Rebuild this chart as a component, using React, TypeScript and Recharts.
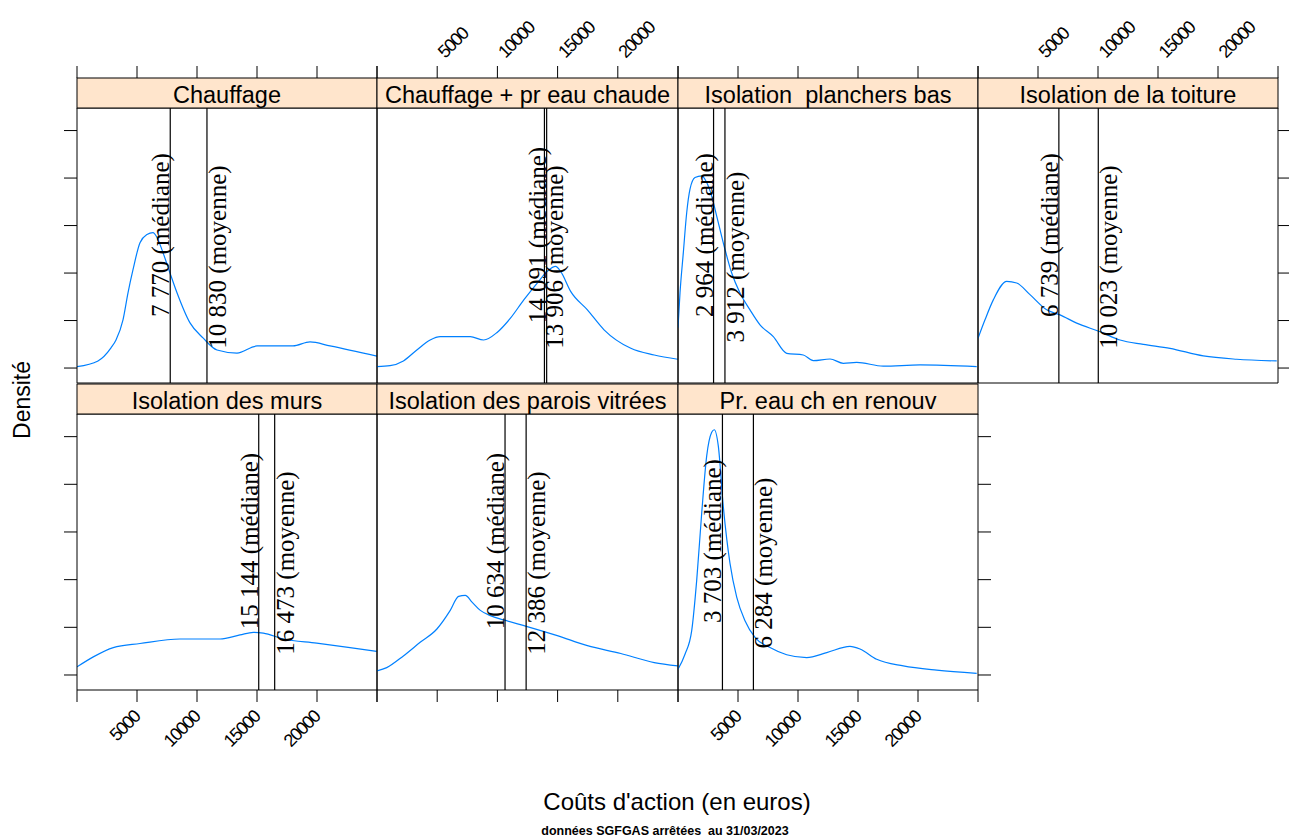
import React from 'react';
import { LineChart, Line, XAxis, YAxis, ReferenceLine } from 'recharts';

// panel titles, in lattice order (top row then bottom row)
const panelNames = [
  'Chauffage',
  'Chauffage + pr eau chaude',
  'Isolation  planchers bas',
  'Isolation de la toiture',
  'Isolation des murs',
  'Isolation des parois vitrées',
  'Pr. eau ch en renouv',
];

const medians = [7770, 14091, 2964, 6739, 15144, 10634, 3703];
const means = [10830, 13906, 3912, 10023, 16473, 12386, 6284];

// density curves (density x 1e5)
const chauffageCost = [0, 1750, 2833, 3250, 3833, 4250, 4667, 5250, 5833, 6333, 6667, 7167, 7750, 8333, 9417, 10500, 11667, 13333, 15000, 18000, 19417, 21083, 25000];
const chauffageDens = [0.06, 0.3, 0.85, 1.18, 2.03, 3.17, 4.14, 5.28, 5.62, 5.7, 5.5, 4.86, 4.0, 3.17, 1.9, 1.27, 0.76, 0.63, 0.93, 0.93, 1.1, 0.93, 0.5];

const chauffEauCost = [0, 1083, 2192, 3308, 4417, 5250, 7750, 8858, 9975, 11083, 12192, 13308, 14142, 14833, 15250, 16083, 17475, 18858, 21083, 23025, 24975];
const chauffEauDens = [0.06, 0.1, 0.3, 0.76, 1.18, 1.32, 1.32, 1.18, 1.5, 2.1, 2.87, 3.58, 4.07, 4.28, 4.07, 3.23, 2.45, 1.61, 0.83, 0.55, 0.37];

const planchersCost = [0, 167, 442, 725, 1000, 1417, 1975, 2392, 2808, 3225, 3775, 4475, 5167, 6000, 6833, 7942, 9058, 10442, 11275, 12667, 13775, 14892, 17108, 20167, 24892];
const planchersDens = [1.7, 3.16, 4.85, 6.54, 7.53, 8.02, 8.09, 7.81, 7.24, 6.4, 5.27, 4.0, 3.16, 2.45, 1.82, 1.32, 0.62, 0.55, 0.31, 0.38, 0.2, 0.24, 0.08, 0.13, 0.06];

const toitureCost = [0, 583, 1275, 2392, 3225, 4333, 5725, 6833, 8225, 10167, 11833, 13775, 16000, 18775, 21558, 24892];
const toitureDens = [1.25, 2.03, 2.87, 3.65, 3.58, 3.09, 2.45, 2.24, 1.89, 1.53, 1.18, 1.0, 0.83, 0.51, 0.37, 0.3];

const mursCost = [0, 1358, 3025, 5250, 8583, 11917, 13583, 14692, 15525, 17192, 19975, 22750, 24975];
const mursDens = [0.34, 0.76, 1.15, 1.32, 1.51, 1.51, 1.68, 1.79, 1.76, 1.51, 1.34, 1.15, 0.99];

const vitreesCost = [0, 808, 2192, 3583, 4975, 6083, 6775, 7333, 7892, 8583, 9417, 10525, 12475, 14975, 17475, 20250, 23025, 24975];
const vitreesDens = [0.17, 0.31, 0.8, 1.37, 1.93, 2.71, 3.3, 3.34, 3.06, 2.71, 2.49, 2.31, 2.03, 1.65, 1.23, 0.9, 0.52, 0.38];

const renouvCost = [0, 583, 1142, 1558, 1975, 2392, 2808, 3025, 3358, 3775, 4333, 4892, 5583, 6417, 7667, 9058, 10725, 12392, 14333, 15167, 16558, 18775, 21558, 24892];
const renouvDens = [0.24, 0.87, 1.86, 3.97, 6.79, 9.19, 10.18, 10.29, 9.61, 7.07, 4.68, 3.27, 2.28, 1.58, 1.15, 0.85, 0.73, 0.94, 1.2, 1.09, 0.66, 0.38, 0.2, 0.07];

const xTicks = [0, 5000, 10000, 15000, 20000, 25000];
const yTicks = [0, 2, 4, 6, 8, 10];

const curves = [
  [chauffageCost, chauffageDens],
  [chauffEauCost, chauffEauDens],
  [planchersCost, planchersDens],
  [toitureCost, toitureDens],
  [mursCost, mursDens],
  [vitreesCost, vitreesDens],
  [renouvCost, renouvDens],
];

// layout
const COLS = [77, 377, 678, 978, 1278];
const ROW_TOP = [108, 414];
const ROW_H = [275, 276];
const STRIP = 30;
const PAD_X = 70;
const PAD_T = 110;
const PAD_B = 80;
const SANS = "'Liberation Sans', Arial, sans-serif";
const SERIF = "'Liberation Serif', 'Times New Roman', serif";

const fmt = (v: number) => String(v).replace(/\B(?=(\d{3})+(?!\d))/g, ' ');

const topTick = (show: boolean, labels: boolean) => (p: any) => {
  if (!show) return <g />;
  const x = p.x;
  const y0 = PAD_T - STRIP;
  const v = p.payload.value;
  return (
    <g>
      <line x1={x} x2={x} y1={y0 - 12} y2={y0} stroke="#000" />
      {labels && v > 0 && v < 25000 && (
        <text x={x + 8} y={y0 - 19} transform={`rotate(-45 ${x + 8} ${y0 - 19})`}
          fontSize={18} letterSpacing={-1.5} fontFamily={SANS} fill="#000">{v}</text>
      )}
    </g>
  );
};

const bottomTick = (show: boolean, labels: boolean, h: number) => (p: any) => {
  if (!show) return <g />;
  const x = p.x;
  const y0 = PAD_T + h;
  const v = p.payload.value;
  return (
    <g>
      <line x1={x} x2={x} y1={y0} y2={y0 + 12} stroke="#000" />
      {labels && v > 0 && v < 25000 && (
        <text x={x + 4} y={y0 + 28} transform={`rotate(-45 ${x + 4} ${y0 + 28})`}
          textAnchor="end" fontSize={18} letterSpacing={-1.5} fontFamily={SANS} fill="#000">{v}</text>
      )}
    </g>
  );
};

const leftTick = (show: boolean) => (p: any) =>
  show ? <line x1={PAD_X - 13} x2={PAD_X} y1={p.y} y2={p.y} stroke="#000" /> : <g />;

const rightTick = (show: boolean, w: number) => (p: any) =>
  show ? <line x1={PAD_X + w} x2={PAD_X + w + 13} y1={p.y} y2={p.y} stroke="#000" /> : <g />;

const vLabel = (text: string, kind: 'med' | 'moy') => (p: any) => {
  const vb = p.viewBox || {};
  const x = vb.x;
  const cy = vb.y + (kind === 'med' ? 127 : 149);
  const tx = kind === 'med' ? x - 1 : x + 19;
  return (
    <text x={tx} y={cy} transform={`rotate(-90 ${tx} ${cy})`} textAnchor="middle"
      fontFamily={SERIF} fontSize={25} fill="#000">{text}</text>
  );
};

const Panel = ({ idx }: { idx: number }) => {
  const row = idx < 4 ? 0 : 1;
  const col = idx < 4 ? idx : idx - 4;
  const w = COLS[col + 1] - COLS[col];
  const h = ROW_H[row];
  const [cost, dens] = curves[idx];
  const data = cost.map((c, i) => ({ cost: c, dens: dens[i] }));

  const showTop = row === 0;
  const topLabels = row === 0 && (col === 1 || col === 3);
  const showBottom = row === 1;
  const bottomLabels = row === 1 && (col === 0 || col === 2);
  const showLeft = col === 0;
  const showRight = (row === 0 && col === 3) || (row === 1 && col === 2);

  return (
    <div style={{ position: 'absolute', left: COLS[col] - PAD_X, top: ROW_TOP[row] - PAD_T }}>
      <LineChart width={w + 2 * PAD_X} height={h + PAD_T + PAD_B} data={data}
        margin={{ top: PAD_T - 40, bottom: PAD_B - 40, left: PAD_X - 40, right: PAD_X - 40 }}>
        <XAxis xAxisId="t" orientation="top" dataKey="cost" type="number" domain={[0, 25000]}
          ticks={xTicks} interval={0} allowDataOverflow height={40} tickLine={false}
          axisLine={{ stroke: '#000' }} tick={topTick(showTop, topLabels)} />
        <XAxis xAxisId="b" orientation="bottom" dataKey="cost" type="number" domain={[0, 25000]}
          ticks={xTicks} interval={0} allowDataOverflow height={40} tickLine={false}
          axisLine={{ stroke: '#000' }} tick={bottomTick(showBottom, bottomLabels, h)} />
        <YAxis yAxisId="l" orientation="left" type="number" domain={[-0.63, 10.95]}
          ticks={yTicks} interval={0} allowDataOverflow width={40} tickLine={false}
          axisLine={{ stroke: '#000' }} tick={leftTick(showLeft)} />
        <YAxis yAxisId="r" orientation="right" type="number" domain={[-0.63, 10.95]}
          ticks={yTicks} interval={0} allowDataOverflow width={40} tickLine={false}
          axisLine={{ stroke: '#000' }} tick={rightTick(showRight, w)} />
        <Line xAxisId="b" yAxisId="l" dataKey="dens" type="monotone" stroke="#0080ff"
          strokeWidth={1.2} dot={false} isAnimationActive={false} />
        <ReferenceLine xAxisId="b" yAxisId="l" x={medians[idx]} stroke="#000" strokeWidth={1.2}
          label={vLabel(`${fmt(medians[idx])} (médiane)`, 'med')} />
        <ReferenceLine xAxisId="b" yAxisId="l" x={means[idx]} stroke="#000" strokeWidth={1.2}
          label={vLabel(`${fmt(means[idx])} (moyenne)`, 'moy')} />
      </LineChart>
    </div>
  );
};

const App = () => {
  return (
    <div style={{ position: 'absolute', left: 0, top: 0, width: 1289, height: 838, background: '#fff' }}>
      {panelNames.map((_, i) => <Panel key={i} idx={i} />)}
      <svg width={1289} height={838} style={{ position: 'absolute', left: 0, top: 0, pointerEvents: 'none' }}>
        {panelNames.map((name, i) => {
          const row = i < 4 ? 0 : 1;
          const col = i < 4 ? i : i - 4;
          const x = COLS[col];
          const w = COLS[col + 1] - x;
          const y = ROW_TOP[row] - STRIP;
          return (
            <g key={name}>
              <rect x={x} y={y} width={w} height={STRIP} fill="#ffe5cc" stroke="#000" />
              <text x={x + w / 2} y={y + 25} textAnchor="middle" fontFamily={SANS} fontSize={23.5}
                fill="#000" style={{ whiteSpace: 'pre' }}>{name}</text>
            </g>
          );
        })}
        <text x={30} y={400} transform="rotate(-90 30 400)" textAnchor="middle" fontFamily={SANS}
          fontSize={23} fill="#000">Densité</text>
        <text x={677} y={810} textAnchor="middle" fontFamily={SANS} fontSize={24} fill="#000">
          Coûts d'action (en euros)
        </text>
        <text x={665} y={835} textAnchor="middle" fontFamily={SANS} fontSize={12.5} fontWeight="bold"
          fill="#000" style={{ whiteSpace: 'pre' }}>données SGFGAS arrêtées  au 31/03/2023</text>
      </svg>
    </div>
  );
};

export default App;
